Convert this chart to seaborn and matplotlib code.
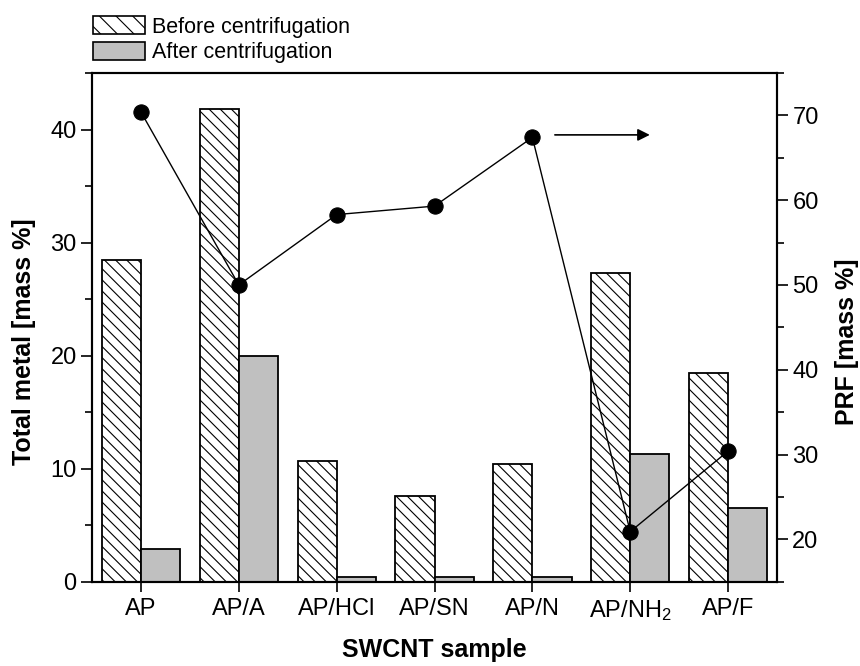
import numpy as np
import pandas as pd
import matplotlib
matplotlib.use("Agg")
import matplotlib.pyplot as plt
import seaborn as sns
from matplotlib.patches import Patch
from matplotlib.ticker import MultipleLocator

samples = ["AP", "AP/A", "AP/HCl", "AP/SN", "AP/N", "AP/NH$_2$", "AP/F"]
before = [28.5, 41.8, 10.7, 7.6, 10.4, 27.3, 18.5]
after = [2.9, 20.0, 0.45, 0.45, 0.45, 11.3, 6.5]
prf = [70.4, 50.0, 58.3, 59.3, 67.4, 20.9, 30.4]
series_names = ["Before centrifugation", "After centrifugation"]

sns.set_theme(style="ticks")
plt.rcParams["font.family"] = ["Liberation Sans", "DejaVu Sans"]
plt.rcParams["mathtext.fontset"] = "custom"
plt.rcParams["mathtext.rm"] = "Liberation Sans"
plt.rcParams["mathtext.it"] = "Liberation Sans"
plt.rcParams["hatch.linewidth"] = 0.8
plt.rcParams["hatch.color"] = "black"
for k in ["text.color", "axes.labelcolor", "xtick.color", "ytick.color", "axes.edgecolor"]:
    plt.rcParams[k] = "black"

df = pd.DataFrame({
    "sample": samples * 2,
    "value": before + after,
    "series": [series_names[0]] * len(samples) + [series_names[1]] * len(samples),
})

fig = plt.figure(figsize=(8.6, 6.66), dpi=100)
ax = fig.add_axes([0.107, 0.1266, 0.7965, 0.7638])

sns.barplot(data=df, x="sample", y="value", hue="series", ax=ax,
            palette=["white", "#c0c0c0"], edgecolor="black", linewidth=1.3,
            gap=0, legend=False, saturation=1)

n = len(samples)
for i, p in enumerate(ax.patches[:2 * n]):
    if i < n:
        p.set_hatch("\\\\\\")
        p.set_facecolor("white")
    p.set_edgecolor("black")

ax.set_xlim(-0.5, n - 0.5)
ax.set_ylim(0, 45)
ax.yaxis.set_major_locator(MultipleLocator(10))
ax.yaxis.set_minor_locator(MultipleLocator(5))
ax.tick_params(axis="y", which="major", direction="out", length=8, width=1.2, labelsize=17, pad=3)
ax.tick_params(axis="y", which="minor", direction="out", length=5, width=1.2)
ax.tick_params(axis="x", which="major", direction="out", length=7.5, width=1.2, labelsize=17, pad=4)
ax.set_xlabel("SWCNT sample", fontsize=18, fontweight="bold", labelpad=11)
ax.set_ylabel("Total metal [mass %]", fontsize=18, fontweight="bold", labelpad=9)
ax.yaxis.set_label_coords(-0.082, 0.471)
for s in ax.spines.values():
    s.set_linewidth(1.5)
    s.set_color("black")

ax2 = ax.twinx()
sns.lineplot(x=np.arange(n), y=prf, ax=ax2, color="black", linewidth=1.0,
             marker="o", markersize=11, markeredgecolor="black", markerfacecolor="black")
ax2.set_ylim(15, 75)
ax2.yaxis.set_major_locator(MultipleLocator(10))
ax2.yaxis.set_minor_locator(MultipleLocator(5))
ax2.tick_params(axis="y", which="major", direction="out", length=8, width=1.2, labelsize=17, pad=3)
ax2.tick_params(axis="y", which="minor", direction="out", length=5, width=1.2)
ax2.set_ylabel("PRF [mass %]", fontsize=18, fontweight="bold", labelpad=9)
ax2.yaxis.set_label_coords(1.085, 0.471)
for s in ax2.spines.values():
    s.set_linewidth(1.5)
    s.set_color("black")
ax2.set_xlim(-0.5, n - 0.5)

ax2.annotate("", xy=(5.2, 67.7), xytext=(4.23, 67.7), xycoords="data", textcoords="data",
             arrowprops=dict(arrowstyle="-|>", color="black", lw=1.2, mutation_scale=18,
                             shrinkA=0, shrinkB=0))

handles = [Patch(facecolor="white", edgecolor="black", hatch="\\\\", linewidth=1.2),
           Patch(facecolor="#c0c0c0", edgecolor="black", linewidth=1.2)]
fig.legend(handles, series_names, loc="lower left", bbox_to_anchor=(0.108, 0.905),
           frameon=False, fontsize=15.5, handlelength=2.4, handleheight=0.9,
           handletextpad=0.35, labelspacing=0.2, borderpad=0, borderaxespad=0)

fig.savefig("out.png", dpi=100)
